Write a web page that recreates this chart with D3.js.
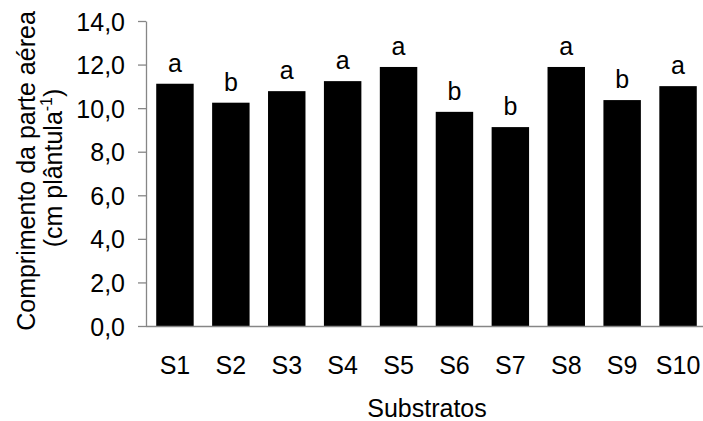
<!DOCTYPE html>
<html>
<head>
<meta charset="utf-8">
<script src="https://cdn.jsdelivr.net/npm/d3@7"></script>
<style>
  html, body { margin: 0; padding: 0; background: #fff; }
  svg { display: block; }
  text { font-family: "Liberation Sans", Arial, sans-serif; fill: #000; }
</style>
</head>
<body>
<script>
const categories = ["S1", "S2", "S3", "S4", "S5", "S6", "S7", "S8", "S9", "S10"];
const values = [11.12, 10.25, 10.78, 11.24, 11.89, 9.83, 9.13, 11.89, 10.37, 11.01];
const letters = ["a", "b", "a", "a", "a", "b", "b", "a", "b", "a"];
const yTicks = [0, 2, 4, 6, 8, 10, 12, 14];
const xTitle = "Substratos";
const yTitle1 = "Comprimento da parte aérea";

const W = 703, H = 421;
const FS = 25;
const axisColor = "#868686";

const svg = d3.select("body").append("svg").attr("width", W).attr("height", H);

const x = d3.scaleBand().domain(categories).range([147, 706]).paddingInner(0.33).paddingOuter(0.165);
const y = d3.scaleLinear().domain([0, 14]).range([326, 21]);

// Y axis
const yAxis = svg.append("g").attr("transform", "translate(146,0)")
  .call(d3.axisLeft(y).tickValues(yTicks).tickSize(8).tickSizeOuter(0).tickPadding(13)
    .tickFormat(d => d3.format(".1f")(d).replace(".", ",")));
yAxis.selectAll("path, line").attr("stroke", axisColor).attr("stroke-width", 1.3);
yAxis.selectAll("text").attr("font-size", FS).attr("dy", "0.36em")
  .style("font-family", '"Liberation Sans", Arial, sans-serif').attr("fill", "#000");

// Bars
svg.append("g").selectAll("rect").data(categories).join("rect")
  .attr("x", d => x(d))
  .attr("width", x.bandwidth())
  .attr("y", (d, i) => y(values[i]))
  .attr("height", (d, i) => y(0) - y(values[i]) + 1)
  .attr("fill", "#000");

// X axis
const xAxis = svg.append("g").attr("transform", "translate(0,326)")
  .call(d3.axisBottom(x).tickSize(0).tickSizeOuter(0));
xAxis.select("path.domain").attr("stroke", axisColor).attr("stroke-width", 1.3)
  .attr("d", "M146,0.5H703");
xAxis.selectAll("text").attr("font-size", FS).attr("dy", null).attr("y", 48)
  .style("font-family", '"Liberation Sans", Arial, sans-serif').attr("fill", "#000");

// Letters
svg.append("g").selectAll("text").data(categories).join("text")
  .attr("x", d => x(d) + x.bandwidth() / 2)
  .attr("y", (d, i) => y(values[i]) - 12)
  .attr("text-anchor", "middle")
  .attr("font-size", FS)
  .text((d, i) => letters[i]);

// X title
svg.append("text").attr("x", 427).attr("y", 417).attr("text-anchor", "middle")
  .attr("font-size", FS).text(xTitle);

// Y title
svg.append("text").attr("transform", "translate(35,171) rotate(-90)")
  .attr("text-anchor", "middle").attr("font-size", FS).text(yTitle1);
const t2 = svg.append("text").attr("transform", "translate(62,168) rotate(-90)")
  .attr("text-anchor", "middle").attr("font-size", FS);
t2.append("tspan").text("(cm plântula");
t2.append("tspan").attr("font-size", 16).attr("dy", -10).text("-1");
t2.append("tspan").attr("dy", 10).text(")");
</script>
</body>
</html>
